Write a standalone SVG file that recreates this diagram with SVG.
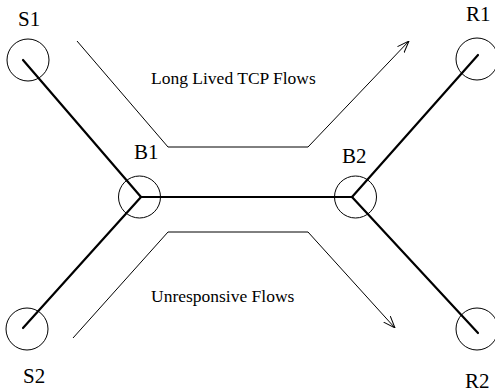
<svg xmlns="http://www.w3.org/2000/svg" width="495" height="392" viewBox="0 0 495 392">
<style>
.node{fill:none;stroke:#000;stroke-width:1}
.link{fill:none;stroke:#000;stroke-width:2.2;stroke-linecap:round}
.flow{fill:none;stroke:#000;stroke-width:1}
text{font-family:"Liberation Serif","Times New Roman",serif;fill:#000}
.lbl{font-size:21px}
.flab{font-size:17.5px}
</style>
<defs>
<marker id="arr" viewBox="0 0 12 10" refX="12" refY="5" markerWidth="12" markerHeight="10" markerUnits="userSpaceOnUse" orient="auto">
<path d="M0,0.5 L12,5 L0,9.5" fill="none" stroke="#000" stroke-width="1"/>
</marker>
</defs>
<g id="connectors">
<line class="link" x1="23" y1="60" x2="141" y2="197"/>
<line class="link" x1="23" y1="328" x2="141" y2="197"/>
<line class="link" x1="141" y1="197" x2="352" y2="197"/>
<line class="link" x1="352" y1="197" x2="478" y2="55"/>
<line class="link" x1="352" y1="197" x2="478" y2="333"/>
<polyline class="flow" points="77,41 168,147 308,147 409,41" marker-end="url(#arr)"/>
<polyline class="flow" points="73,338 168,232 308,232 395,328" marker-end="url(#arr)"/>
</g>
<g id="S1"><circle class="node" cx="28" cy="60" r="21"/><text class="lbl" x="18" y="26">S1</text></g>
<g id="S2"><circle class="node" cx="27" cy="329" r="21"/><text class="lbl" x="23" y="383">S2</text></g>
<g id="B1"><circle class="node" cx="139.5" cy="197" r="21"/><text class="lbl" x="134" y="159">B1</text></g>
<g id="B2"><circle class="node" cx="355.5" cy="197" r="21"/><text class="lbl" x="342" y="163">B2</text></g>
<g id="R1"><circle class="node" cx="477" cy="59" r="21"/><text class="lbl" x="466" y="21">R1</text></g>
<g id="R2"><circle class="node" cx="477" cy="329" r="21"/><text class="lbl" x="465" y="388">R2</text></g>
<g id="labels">
<text class="flab" x="151" y="84">Long Lived TCP Flows</text>
<text class="flab" x="151" y="302">Unresponsive Flows</text>
</g>
</svg>
